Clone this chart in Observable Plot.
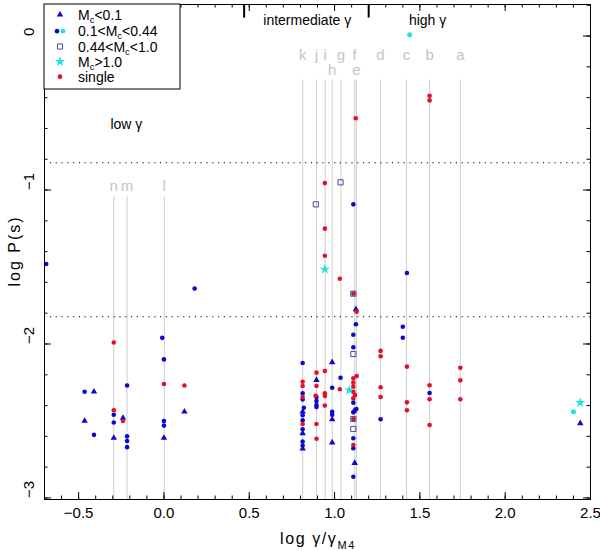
<!DOCTYPE html>
<html>
<head>
<meta charset="utf-8">
<script src="https://cdn.jsdelivr.net/npm/d3@7"></script>
<script src="https://cdn.jsdelivr.net/npm/@observablehq/plot@0.6"></script>
<style>
  body { margin: 0; background: white; }
</style>
</head>
<body>
<div id="chart"></div>
<script>
// ---- data: [log gamma/gammaM4, log P] ----
var blueTri = [
  [-0.41, -2.31], [0.12, -2.44], [-0.465, -2.50], [-0.24, -2.48], [-0.294, -2.61], [0, -2.61],
  [0.813, -2.44], [0.813, -2.58], [0.813, -2.68], [0.894, -2.234],
  [0.986, -2.119], [0.986, -2.49], [0.986, -2.64],
  [1.125, -1.775], [1.115, -2.435], [1.118, -2.773], [2.44, -2.515]
];
var blueDot = [
  [-0.69, -1.48], [0.18, -1.64], [-0.01, -1.96], [0, -2.10], [-0.216, -2.27], [-0.465, -2.31],
  [-0.294, -2.46], [-0.294, -2.51], [0, -2.50], [0, -2.53], [-0.41, -2.59],
  [-0.216, -2.60], [-0.216, -2.63], [-0.216, -2.67],
  [0.813, -2.123], [0.813, -2.32], [0.813, -2.36], [0.82, -2.414], [0.813, -2.463],
  [0.813, -2.495], [0.813, -2.554], [0.813, -2.634], [0.813, -2.66],
  [0.894, -2.345], [0.894, -2.37], [0.894, -2.396], [0.894, -2.41],
  [0.986, -2.284], [0.986, -2.44], [0.986, -2.46], [1.035, -2.219],
  [1.11, -1.093], [1.125, -1.872], [1.11, -1.94], [1.11, -2.021], [1.11, -2.381],
  [1.128, -2.422], [1.11, -2.444], [1.11, -2.612], [1.11, -2.677], [1.11, -2.862],
  [1.40, -1.888], [1.40, -1.959], [1.424, -1.539], [1.557, -2.318], [1.27, -2.489]
];
var cyanDot = [[1.44, 0.008], [2.40, -2.44]];
var stars = [[0.943, -1.515], [1.086, -2.30], [2.44, -2.381]];
var squares = [[1.035, -0.95], [0.89, -1.093], [1.11, -1.673], [1.11, -2.065], [1.11, -2.487], [1.11, -2.552]];
var single = [
  [-0.294, -1.99], [0.0, -2.26], [0.12, -2.27], [-0.294, -2.43], [-0.24, -2.50],
  [0.813, -2.245], [0.813, -2.273], [0.813, -2.345], [0.813, -2.52],
  [0.894, -2.186], [0.894, -2.273], [0.889, -2.336], [0.894, -2.52], [0.894, -2.615],
  [0.943, -0.955], [0.943, -1.251], [0.943, -1.427], [0.943, -2.175], [0.943, -2.32], [0.943, -2.338], [0.943, -2.40],
  [1.031, -1.576], [1.031, -2.294],
  [1.124, -0.534], [1.11, -1.673], [1.129, -1.79], [1.13, -2.208], [1.11, -2.223], [1.11, -2.251],
  [1.11, -2.277], [1.11, -2.31], [1.12, -2.331], [1.11, -2.353], [1.11, -2.487], [1.11, -2.656],
  [1.27, -2.045], [1.27, -2.08], [1.27, -2.281], [1.27, -2.344],
  [1.424, -2.147], [1.424, -2.379], [1.424, -2.43],
  [1.557, -0.388], [1.557, -0.418], [1.557, -2.268], [1.557, -2.359], [1.557, -2.526],
  [1.737, -2.154], [1.737, -2.236], [1.737, -2.359]
];

// pulsar guide lines
var highNames = ["k", "j", "i", "h", "g", "f", "e", "d", "c", "b", "a"];
var highX = [0.813, 0.894, 0.945, 0.986, 1.037, 1.118, 1.128, 1.269, 1.422, 1.557, 1.737];
var lowNames = ["n", "m", "l"];
var lowX = [-0.294, -0.216, 0.002];

var periodCuts = [-0.823, -1.823];
var regimeEdges = [0.47, 1.2];
var xTicks = [-0.5, 0, 0.5, 1, 1.5, 2, 2.5];
var yTicks = [0, -1, -2, -3];

// ---- layout ----
var W = 600, H = 551;
var mL = 44, mR = 10, mT = 4, mB = 52;
var fw = W - mL - mR, fh = H - mT - mB;
var blue = "#0a0acc", red = "#e3102c", cyan = "#1fe3e3", sqCol = "#4a4aa8", grey = "#cdcdcd";
var font = "Liberation Sans, Arial, sans-serif";

var highLines = highNames.map(function (n, i) { return { name: n, x: highX[i] }; });
var lowLines = lowNames.map(function (n, i) { return { name: n, x: lowX[i] }; });
var xMinor = d3.range(-7, 26).map(function (i) { return i / 10; });
var yMinor = d3.range(-15, 2).map(function (i) { return i / 5; });
var fmtY = function (d) { return d === 0 ? "0" : "\u2212" + Math.abs(d); };

var px = function (d) { return d[0]; }, py = function (d) { return d[1]; };

var chart = Plot.plot({
  width: W, height: H,
  marginLeft: mL, marginRight: mR, marginTop: mT, marginBottom: mB,
  style: { fontFamily: font, background: "white", overflow: "visible" },
  x: { domain: [-0.7, 2.5] },
  y: { domain: [-3.01, 0.205], axis: null },
  marks: [
    Plot.ruleX(highLines, { x: "x", y1: -0.286, y2: -3.01, stroke: grey }),
    Plot.ruleX(lowLines, { x: "x", y1: -1.045, y2: -3.01, stroke: grey }),
    Plot.text(highLines, {
      x: "x", y: function (d) { return d.name === "h" || d.name === "e" ? -0.253 : -0.156; },
      text: "name", fill: "#c4c4c4", fontSize: 15, lineAnchor: "bottom"
    }),
    Plot.text(lowLines, { x: "x", y: -1.005, text: "name", fill: "#c4c4c4", fontSize: 15, lineAnchor: "bottom" }),
    Plot.ruleY(periodCuts, { stroke: "black", strokeDasharray: "1.2,4.6" }),

    Plot.dot(blueDot, { x: px, y: py, r: 2.3, fill: blue }),
    Plot.dot(blueTri, { x: px, y: py, symbol: "triangle", r: 2.4, fill: blue }),
    Plot.dot(single, { x: px, y: py, r: 2.3, fill: red }),
    Plot.dot(squares, { x: px, y: py, symbol: "square", r: 2.9, stroke: sqCol, strokeWidth: 1, fill: "none" }),
    Plot.dot(stars, { x: px, y: py, symbol: "star", r: 3.2, fill: cyan }),
    Plot.dot(cyanDot, { x: px, y: py, r: 2.5, fill: cyan }),

    Plot.text(["low \u03b3"], { x: -0.22, y: -0.604, text: function (d) { return d; }, fontSize: 14, lineAnchor: "bottom" }),
    Plot.text(["intermediate \u03b3", "high \u03b3"], {
      x: function (d, i) { return [0.84, 1.545][i]; }, y: 0.071,
      text: function (d) { return d; }, fontSize: 14, lineAnchor: "bottom"
    }),
    Plot.ruleX(regimeEdges, { x: function (d) { return d; }, y1: 0.205, y2: 0.117, stroke: "black", strokeWidth: 2 }),

    // frame and inward ticks on all sides
    Plot.frame({ stroke: "black" }),
    Plot.tickX(xMinor, { x: function (d) { return d; }, insetTop: fh - 3.5, stroke: "black" }),
    Plot.tickX(xMinor, { x: function (d) { return d; }, insetBottom: fh - 3.5, stroke: "black" }),
    Plot.tickX(xTicks, { x: function (d) { return d; }, insetTop: fh - 7, stroke: "black" }),
    Plot.tickX(xTicks, { x: function (d) { return d; }, insetBottom: fh - 7, stroke: "black" }),
    Plot.tickY(yMinor, { y: function (d) { return d; }, insetRight: fw - 3.5, stroke: "black" }),
    Plot.tickY(yMinor, { y: function (d) { return d; }, insetLeft: fw - 3.5, stroke: "black" }),
    Plot.tickY(yTicks, { y: function (d) { return d; }, insetRight: fw - 7, stroke: "black" }),
    Plot.tickY(yTicks, { y: function (d) { return d; }, insetLeft: fw - 7, stroke: "black" }),

    Plot.axisX({ ticks: xTicks, tickSize: 0, tickPadding: 8, fontSize: 15, label: null }),
    Plot.text(yTicks, {
      y: function (d) { return d; }, frameAnchor: "left", dx: -11, rotate: -90,
      text: fmtY, lineAnchor: "bottom", fontSize: 15
    })
  ]
});

var svg = d3.select(chart);

// axis titles
svg.append("text")
  .attr("x", 318).attr("y", 544)
  .attr("text-anchor", "middle")
  .style("font-size", "16px").style("letter-spacing", "1.6px")
  .text("log \u03b3/\u03b3")
  .append("tspan").attr("dy", 5).style("font-size", "11px").text("M4");

svg.append("text")
  .attr("transform", "translate(20,251) rotate(-90)")
  .attr("text-anchor", "middle")
  .style("font-size", "16px").style("letter-spacing", "2px")
  .text("log P(s)");

// legend box
var leg = svg.append("g").style("font-size", "14px").attr("text-anchor", "start");
leg.append("rect").attr("x", mL).attr("y", mT).attr("width", 136).attr("height", 85)
  .attr("fill", "white").attr("stroke", "black");

var entries = [
  { sym: d3.symbolTriangle, size: 18, fill: blue, stroke: "none", xs: [60], y: 14.7, pre: "M", post: "<0.1" },
  { sym: d3.symbolCircle, size: 17, fill: [blue, cyan], stroke: "none", xs: [57, 63], y: 31.2, pre: "0.1<M", post: "<0.44" },
  { sym: d3.symbolSquare, size: 26, fill: "none", stroke: sqCol, xs: [60], y: 46.5, pre: "0.44<M", post: "<1.0" },
  { sym: d3.symbolStar, size: 32, fill: cyan, stroke: "none", xs: [60], y: 61.7, pre: "M", post: ">1.0" },
  { sym: d3.symbolCircle, size: 17, fill: red, stroke: "none", xs: [60], y: 76.7, pre: "single", post: null }
];
entries.forEach(function (e) {
  e.xs.forEach(function (x, i) {
    leg.append("path")
      .attr("d", d3.symbol(e.sym, e.size)())
      .attr("transform", "translate(" + x + "," + e.y + ")")
      .attr("fill", Array.isArray(e.fill) ? e.fill[i] : e.fill)
      .attr("stroke", e.stroke);
  });
  var t = leg.append("text").attr("x", 78).attr("y", e.y + 5).attr("text-anchor", "start");
  t.append("tspan").text(e.pre);
  if (e.post !== null) {
    t.append("tspan").attr("dy", 3).style("font-size", "9.5px").text("c");
    t.append("tspan").attr("dy", -3).text(e.post);
  }
});

document.getElementById("chart").append(chart);
</script>
</body>
</html>
